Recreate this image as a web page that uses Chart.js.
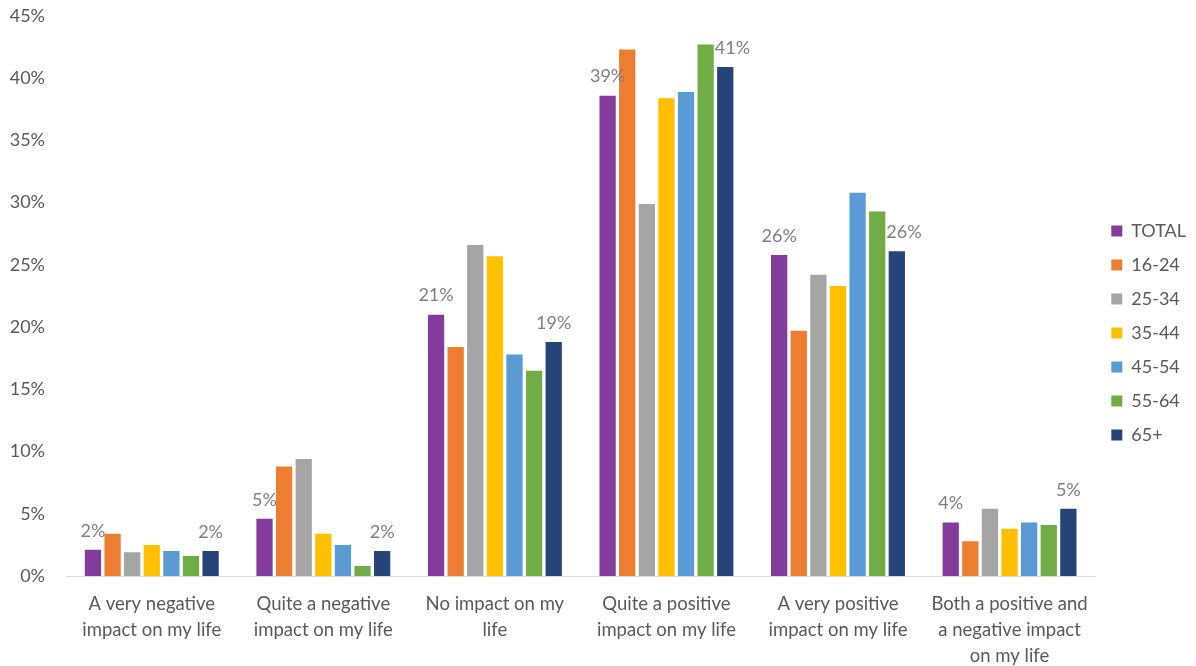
<!DOCTYPE html>
<html>
<head>
<meta charset="utf-8">
<script src="https://cdn.jsdelivr.net/npm/chart.js@4"></script>
<style>
html,body{margin:0;padding:0;background:#fff;}
#wrap{position:relative;width:1196px;height:666px;}
</style>
</head>
<body>
<div id="wrap"><canvas id="c"></canvas></div>
<script>
const categories = [
  ["A very negative","impact on my life"],
  ["Quite a negative","impact on my life"],
  ["No impact on my","life"],
  ["Quite a positive","impact on my life"],
  ["A very positive","impact on my life"],
  ["Both a positive and","a negative impact","on my life"]
];
const seriesNames = ["TOTAL","16-24","25-34","35-44","45-54","55-64","65+"];
const total = [2.1, 4.6, 21.0, 38.6, 25.8, 4.3];
const age16_24 = [3.4, 8.8, 18.4, 42.3, 19.7, 2.8];
const age25_34 = [1.9, 9.4, 26.6, 29.9, 24.2, 5.4];
const age35_44 = [2.5, 3.4, 25.7, 38.4, 23.3, 3.8];
const age45_54 = [2.0, 2.5, 17.8, 38.9, 30.8, 4.3];
const age55_64 = [1.6, 0.8, 16.5, 42.7, 29.3, 4.1];
const age65plus = [2.0, 2.0, 18.8, 40.9, 26.1, 5.4];
const yTicks = [0,5,10,15,20,25,30,35,40,45];
const colors = ["#833c9b","#ed7d31","#a5a5a5","#ffc000","#5b9bd5","#70ad47","#264478"];
const labeledSeries = [0, 6];

const allData = [total, age16_24, age25_34, age35_44, age45_54, age55_64, age65plus];

const labelPlugin = {
  id: 'valueLabels',
  afterDatasetsDraw(chart) {
    const ctx = chart.ctx;
    ctx.save();
    ctx.font = '18px Lato, "Open Sans", sans-serif';
    ctx.fillStyle = '#7f7f7f';
    ctx.textAlign = 'left';
    ctx.textBaseline = 'bottom';
    labeledSeries.forEach(di => {
      const meta = chart.getDatasetMeta(di);
      meta.data.forEach((el, i) => {
        const v = chart.data.datasets[di].data[i];
        const txt = Math.round(v) + '%';
        const w = ctx.measureText(txt).width;
        let left = el.x - w / 2;
        const bottom = el.y - 10;
        if (di > 0) {
          const prev = chart.getDatasetMeta(di - 1).data[i];
          if (prev.y < bottom) {
            const prevRight = prev.x + prev.width / 2 + 1;
            if (left < prevRight) left = prevRight;
          }
        }
        ctx.fillText(txt, left, bottom);
      });
    });
    ctx.restore();
  }
};

Chart.defaults.font.family = 'Lato, "Open Sans", sans-serif';
Chart.defaults.font.size = 18;
Chart.defaults.color = '#595959';

new Chart(document.getElementById('c'), {
  type: 'bar',
  data: {
    labels: categories,
    datasets: seriesNames.map((n, i) => ({
      label: n,
      data: allData[i],
      backgroundColor: colors[i],
      borderWidth: 0,
      categoryPercentage: 0.8,
      barPercentage: 0.83
    }))
  },
  options: {
    responsive: true,
    maintainAspectRatio: false,
    animation: false,
    layout: { padding: { top: 0, right: 0, left: 0, bottom: 0 } },
    plugins: {
      legend: {
        position: 'right',
        align: 'center',
        labels: {
          boxWidth: 11,
          boxHeight: 11,
          padding: 16,
          color: '#595959',
          font: { size: 18 }
        }
      },
      tooltip: { enabled: false }
    },
    scales: {
      x: {
        grid: { display: false, drawTicks: false },
        border: { display: true, color: '#d9d9d9', width: 1 },
        afterFit(axis) { axis.height = 90; },
        ticks: { color: '#595959', maxRotation: 0, autoSkip: false, padding: 15, font: { size: 18.5, lineHeight: 1.4 } }
      },
      y: {
        min: 0, max: 45,
        afterBuildTicks(axis) { axis.ticks = yTicks.map(v => ({ value: v })); },
        afterFit(axis) { axis.width = 66; axis.paddingTop = 16; axis.paddingBottom = 0; },
        grid: { display: false, drawTicks: false },
        border: { display: false },
        ticks: { color: '#595959', padding: 21, font: { size: 18 }, callback: v => v + '%' }
      }
    }
  },
  plugins: [labelPlugin]
});
</script>
</body>
</html>
